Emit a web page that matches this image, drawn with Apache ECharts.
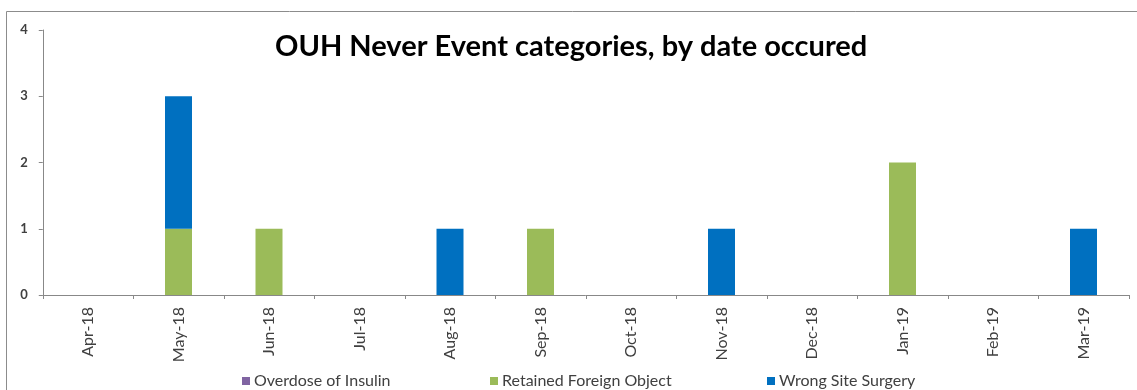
<!DOCTYPE html>
<html>
<head>
<meta charset="utf-8">
<script src="https://cdn.jsdelivr.net/npm/echarts@6/dist/echarts.min.js"></script>
<style>
  html, body { margin: 0; padding: 0; background: #fff; }
  #chart { width: 1137px; height: 390px; }
</style>
</head>
<body>
<div id="chart"></div>
<script>
// Months in which never events occurred
const months = ['Apr-18', 'May-18', 'Jun-18', 'Jul-18', 'Aug-18', 'Sep-18',
                'Oct-18', 'Nov-18', 'Dec-18', 'Jan-19', 'Feb-19', 'Mar-19'];

// Event counts per category (null = no event that month)
const overdoseOfInsulin     = [null, null, null, null, null, null, null, null, null, null, null, null];
const retainedForeignObject = [null, 1, 1, null, null, 1, null, null, null, 2, null, null];
const wrongSiteSurgery      = [null, 2, null, null, 1, null, null, 1, null, null, null, 1];

const yTicks = [0, 1, 2, 3, 4];

const seriesNames = ['Overdose of Insulin', 'Retained Foreign Object', 'Wrong Site Surgery'];
const seriesColors = ['#8064A2', '#9BBB59', '#0070C0'];
const seriesData = [overdoseOfInsulin, retainedForeignObject, wrongSiteSurgery];

const font = 'Lato, "Open Sans", sans-serif';
const chart = echarts.init(document.getElementById('chart'), null, { renderer: 'canvas' });

// one legend box per series so each entry sits at its own spot
const legendLefts = [237, 485, 762];

chart.setOption({
  animation: false,
  backgroundColor: '#ffffff',
  graphic: [{
    type: 'rect',
    shape: { x: 6.5, y: 11.5, width: 1140, height: 390 },
    style: { fill: 'none', stroke: '#8c8c8c', lineWidth: 1 },
    silent: true
  }],
  title: {
    text: 'OUH Never Event categories, by date occured',
    left: 270,
    top: 27,
    textStyle: { fontFamily: font, fontSize: 29, fontWeight: 'bold', color: '#000' }
  },
  legend: seriesNames.map((name, i) => ({
    data: [name],
    left: legendLefts[i],
    top: 368,
    icon: 'rect',
    itemWidth: 8,
    itemHeight: 8,
    itemGap: 0,
    textStyle: { fontFamily: font, fontSize: 16, color: '#404040', padding: [0, 0, 0, -1] }
  })),
  grid: { left: 42.75, right: 8.25, top: 30, bottom: 95, containLabel: false },
  xAxis: {
    type: 'category',
    data: months,
    axisLine: { lineStyle: { color: '#888888', width: 1 } },
    axisTick: { show: true, alignWithLabel: false, length: 4, inside: false, lineStyle: { color: '#888888' } },
    axisLabel: { rotate: 90, margin: 12, fontFamily: font, fontSize: 16, color: '#404040', interval: 0 }
  },
  yAxis: {
    type: 'value',
    min: yTicks[0],
    max: yTicks[yTicks.length - 1],
    interval: 1,
    splitLine: { show: false },
    axisLine: { show: true, lineStyle: { color: '#888888', width: 1 } },
    axisTick: { show: true, length: 4, lineStyle: { color: '#888888' } },
    axisLabel: { margin: 15, fontFamily: font, fontSize: 13, fontWeight: 'bold', color: '#404040' }
  },
  series: seriesNames.map((name, i) => ({
    name,
    type: 'bar',
    stack: 'events',
    barWidth: 27,
    data: seriesData[i],
    itemStyle: { color: seriesColors[i] }
  }))
});
</script>
</body>
</html>
